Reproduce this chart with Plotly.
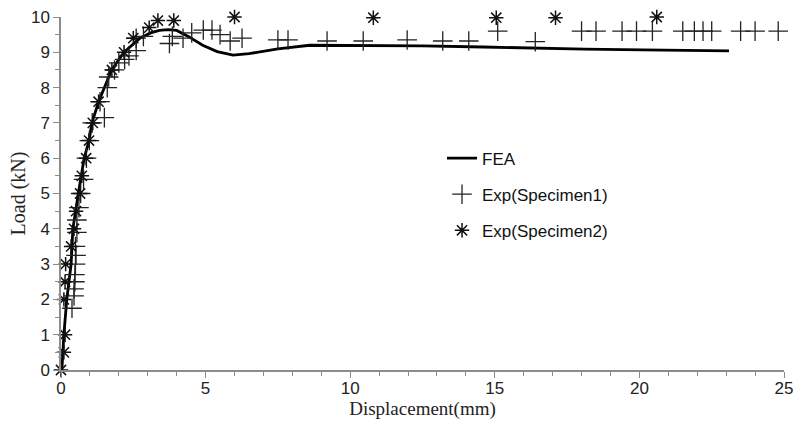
import plotly.graph_objects as go

# FEA curve
fea_x = [0.0, 0.03, 0.1, 0.2, 0.35, 0.41, 0.6, 0.8, 0.97, 1.07, 1.3, 1.75, 2.18, 2.73, 3.1, 3.4, 3.7, 4.0,
         4.4, 4.9, 5.4, 5.95, 6.5, 7.5, 8.6, 10.0, 11.0, 12.5, 14.6, 16.1, 18.1, 20.1, 22.1, 23.1]
fea_y = [0.0, 0.0, 1.0, 2.0, 3.0, 4.0, 5.0, 6.0, 6.5, 7.0, 7.6, 8.5, 9.0, 9.4, 9.55, 9.62, 9.64, 9.62,
         9.45, 9.2, 9.02, 8.92, 8.96, 9.1, 9.2, 9.2, 9.19, 9.18, 9.15, 9.12, 9.09, 9.07, 9.05, 9.04]

# Experiment, specimen 1
s1_x = [0.38, 0.45, 0.45, 0.48, 0.48, 0.5, 0.52, 0.5, 0.55, 0.55, 0.62, 0.68, 0.78, 0.88, 0.98, 1.08,
        1.5, 1.35, 1.6, 1.65, 1.85, 2.0, 2.2, 2.35, 2.6, 2.6, 2.85, 3.75, 3.85, 4.22, 4.52, 4.92, 5.22,
        5.5, 5.85, 6.26, 7.5, 7.85, 9.2, 10.45, 11.97, 13.2, 14.1, 15.1, 16.4, 18.0, 18.5, 19.4, 19.9,
        20.45, 21.5, 21.9, 22.2, 22.5, 23.5, 24.0, 24.8]
s1_y = [1.75, 2.1, 2.3, 2.5, 2.7, 3.0, 3.25, 3.5, 3.9, 4.25, 4.6, 5.0, 5.4, 6.0, 6.5, 7.0,
        7.15, 7.6, 8.0, 8.3, 8.5, 8.7, 8.8, 8.9, 9.05, 9.4, 9.45, 9.25, 9.45, 9.4, 9.55, 9.63, 9.63,
        9.5, 9.32, 9.4, 9.35, 9.35, 9.32, 9.32, 9.35, 9.32, 9.32, 9.6, 9.3, 9.6, 9.6, 9.6, 9.6,
        9.6, 9.6, 9.6, 9.6, 9.6, 9.6, 9.6, 9.6]

# Experiment, specimen 2
s2_x = [0.0, 0.1, 0.14, 0.1, 0.14, 0.16, 0.35, 0.45, 0.52, 0.66, 0.72, 0.87, 0.97, 1.1, 1.3, 1.76,
        2.18, 2.5, 3.05, 3.35, 3.9, 6.0, 10.8, 15.05, 17.1, 20.6]
s2_y = [0.0, 0.5, 1.0, 2.0, 2.5, 3.0, 3.5, 4.0, 4.5, 5.0, 5.5, 6.0, 6.5, 7.0, 7.6, 8.5,
        9.0, 9.4, 9.7, 9.9, 9.9, 10.0, 9.98, 9.98, 9.98, 10.0]

fig = go.Figure()
fig.add_trace(go.Scatter(x=fea_x, y=fea_y, mode="lines", name="FEA", legendgroup="a",
                         line=dict(color="black", width=2.8), cliponaxis=False))
fig.add_trace(go.Scatter(x=s1_x, y=s1_y, mode="markers", name="Exp(Specimen1)", legendgroup="b",
                         marker=dict(symbol="cross-thin-open", size=14, color="#222222",
                                     line=dict(color="#222222", width=1.3)),
                         cliponaxis=False))
fig.add_trace(go.Scatter(x=s2_x, y=s2_y, mode="markers", name="Exp(Specimen2)", legendgroup="c",
                         marker=dict(symbol="asterisk-open", size=12, color="#111111",
                                     line=dict(color="#111111", width=1.5)),
                         cliponaxis=False))

axis_common = dict(showline=True, linecolor="#8c8c8c", linewidth=1.5, showgrid=False, zeroline=False,
                   ticks="outside", ticklen=6, tickcolor="#8c8c8c", tickwidth=1, automargin=False,
                   tickfont=dict(family="Liberation Sans, Arial", size=17, color="#222222"))

fig.update_layout(
    width=799, height=430,
    margin=dict(l=61, r=15, t=17, b=60),
    paper_bgcolor="white", plot_bgcolor="white",
    showlegend=True,
    legend=dict(x=0.527, y=0.65, xanchor="left", yanchor="top",
                font=dict(family="Liberation Sans, Arial", size=17, color="#111111"),
                tracegroupgap=11, bgcolor="rgba(0,0,0,0)", itemwidth=30),
    xaxis=dict(range=[0, 25], dtick=5, tick0=0, ticklabelstandoff=-4,
               minor=dict(dtick=1, ticks="outside", ticklen=4, tickcolor="#8c8c8c"),
               title=dict(text="Displacement(mm)", standoff=5,
                          font=dict(family="Liberation Serif, Times New Roman", size=19, color="#222222")),
               **axis_common),
    yaxis=dict(range=[0, 10], dtick=1, tick0=0,
               minor=dict(dtick=0.5, ticks="outside", ticklen=4, tickcolor="#8c8c8c"),
               title=dict(text="Load (kN)", standoff=0,
                          font=dict(family="Liberation Serif, Times New Roman", size=20, color="#222222")),
               **axis_common),
)

fig.write_html("out.html")
